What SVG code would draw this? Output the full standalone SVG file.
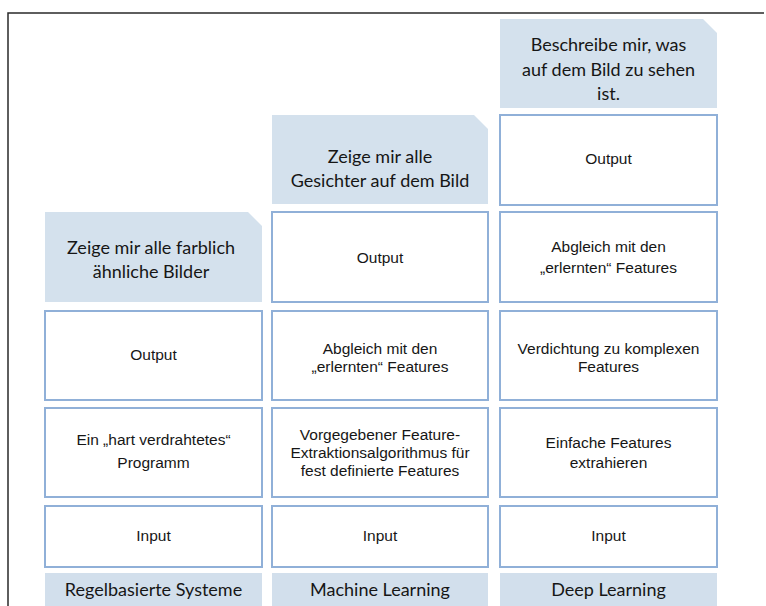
<svg xmlns="http://www.w3.org/2000/svg" width="766" height="606" viewBox="0 0 766 606">
  <style>
    .box { fill: #ffffff; stroke: #90b0d8; stroke-width: 2; }
    .head { fill: #d4e1ed; }
    .foot { fill: #d2dfec; }
    .t { font-family: "Liberation Sans", Arial, sans-serif; font-size: 15.5px; fill: #161616; text-anchor: middle; }
    .h { font-family: "Lato", "Open Sans", sans-serif; font-size: 18px; fill: #161616; text-anchor: middle; }
    .frame { stroke: #2a2a2a; stroke-width: 1.5; fill: none; }
  </style>

  <rect width="766" height="606" fill="#ffffff"/>
  <path class="frame" d="M8 606 V13 H764"/>

  <!-- Column 1: Regelbasierte Systeme -->
  <g id="c1-goal">
    <path class="head" d="M45 212 H248 L262 226 V302 H45 Z"/>
    <text class="h" x="151" y="254">Zeige mir alle farblich</text>
    <text class="h" x="151" y="278">ähnliche Bilder</text>
  </g>
  <g id="c1-output">
    <rect class="box" x="45" y="311" width="217" height="89"/>
    <text class="t" x="153.5" y="360">Output</text>
  </g>
  <g id="c1-program">
    <rect class="box" x="45" y="408" width="217" height="89"/>
    <text class="t" x="153.5" y="445">Ein „hart verdrahtetes“</text>
    <text class="t" x="153.5" y="468">Programm</text>
  </g>
  <g id="c1-input">
    <rect class="box" x="45" y="506" width="217" height="61"/>
    <text class="t" x="153.5" y="541">Input</text>
  </g>
  <g id="c1-label">
    <rect class="foot" x="45" y="573" width="217" height="33"/>
    <text class="h" x="153.5" y="596">Regelbasierte Systeme</text>
  </g>

  <!-- Column 2: Machine Learning -->
  <g id="c2-goal">
    <path class="head" d="M272 115 H474 L488 129 V204 H272 Z"/>
    <text class="h" x="380" y="163">Zeige mir alle</text>
    <text class="h" x="380" y="187">Gesichter auf dem Bild</text>
  </g>
  <g id="c2-output">
    <rect class="box" x="272" y="212" width="216" height="90"/>
    <text class="t" x="380" y="263">Output</text>
  </g>
  <g id="c2-match">
    <rect class="box" x="272" y="311" width="216" height="89"/>
    <text class="t" x="380" y="354">Abgleich mit den</text>
    <text class="t" x="380" y="372">„erlernten“ Features</text>
  </g>
  <g id="c2-extract">
    <rect class="box" x="272" y="408" width="216" height="89"/>
    <text class="t" x="380" y="440">Vorgegebener Feature-</text>
    <text class="t" x="380" y="458">Extraktionsalgorithmus für</text>
    <text class="t" x="380" y="476">fest definierte Features</text>
  </g>
  <g id="c2-input">
    <rect class="box" x="272" y="506" width="216" height="61"/>
    <text class="t" x="380" y="541">Input</text>
  </g>
  <g id="c2-label">
    <rect class="foot" x="272" y="573" width="216" height="33"/>
    <text class="h" x="380" y="596">Machine Learning</text>
  </g>

  <!-- Column 3: Deep Learning -->
  <g id="c3-goal">
    <path class="head" d="M500 19 H703 L717 33 V108 H500 Z"/>
    <text class="h" x="608.5" y="51">Beschreibe mir, was</text>
    <text class="h" x="608.5" y="76">auf dem Bild zu sehen</text>
    <text class="h" x="608.5" y="100">ist.</text>
  </g>
  <g id="c3-output">
    <rect class="box" x="500" y="115" width="217" height="90"/>
    <text class="t" x="608.5" y="164">Output</text>
  </g>
  <g id="c3-match">
    <rect class="box" x="500" y="212" width="217" height="90"/>
    <text class="t" x="608.5" y="252">Abgleich mit den</text>
    <text class="t" x="608.5" y="273">„erlernten“ Features</text>
  </g>
  <g id="c3-condense">
    <rect class="box" x="500" y="311" width="217" height="89"/>
    <text class="t" x="608.5" y="354">Verdichtung zu komplexen</text>
    <text class="t" x="608.5" y="372">Features</text>
  </g>
  <g id="c3-simple">
    <rect class="box" x="500" y="408" width="217" height="89"/>
    <text class="t" x="608.5" y="448">Einfache Features</text>
    <text class="t" x="608.5" y="468">extrahieren</text>
  </g>
  <g id="c3-input">
    <rect class="box" x="500" y="506" width="217" height="61"/>
    <text class="t" x="608.5" y="541">Input</text>
  </g>
  <g id="c3-label">
    <rect class="foot" x="500" y="573" width="217" height="33"/>
    <text class="h" x="608.5" y="596">Deep Learning</text>
  </g>

  <g id="connectors"></g>
</svg>
